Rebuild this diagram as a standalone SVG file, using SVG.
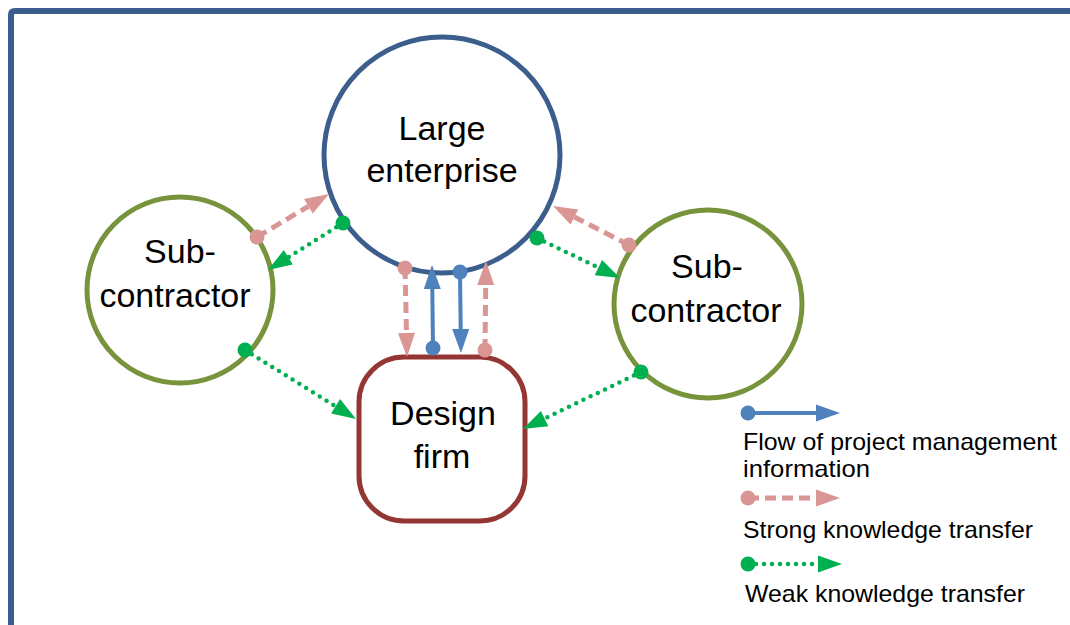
<svg xmlns="http://www.w3.org/2000/svg" width="1070" height="625" viewBox="0 0 1070 625">
<style>
.lbl{font-family:"Liberation Sans",Arial,sans-serif;font-size:34px;fill:#000;text-anchor:middle}
.leg{font-family:"Liberation Sans",Arial,sans-serif;font-size:24px;fill:#000}
.blue{stroke:#4f81bd;stroke-width:4;fill:none;marker-start:url(#db);marker-end:url(#ab)}
.pink{stroke:#d99694;stroke-width:5;fill:none;stroke-dasharray:11 6;marker-start:url(#dp);marker-end:url(#ap)}
.green{stroke:#00b050;stroke-width:4.5;fill:none;stroke-dasharray:0 8;stroke-linecap:round;marker-start:url(#dg);marker-end:url(#ag)}
</style>
<defs>
<marker id="ab" markerUnits="userSpaceOnUse" orient="auto" refX="0" refY="0" markerWidth="30" markerHeight="30" overflow="visible"><path d="M0,-8.5 L24,0 L0,8.5 z" fill="#4f81bd"/></marker>
<marker id="ap" markerUnits="userSpaceOnUse" orient="auto" refX="0" refY="0" markerWidth="30" markerHeight="30" overflow="visible"><path d="M0,-8.5 L24,0 L0,8.5 z" fill="#d99694"/></marker>
<marker id="ag" markerUnits="userSpaceOnUse" orient="auto" refX="0" refY="0" markerWidth="30" markerHeight="30" overflow="visible"><path d="M0,-8.5 L24,0 L0,8.5 z" fill="#00b050"/></marker>
<marker id="db" markerUnits="userSpaceOnUse" refX="0" refY="0" markerWidth="20" markerHeight="20" overflow="visible"><circle r="7.5" fill="#4f81bd"/></marker>
<marker id="dp" markerUnits="userSpaceOnUse" refX="0" refY="0" markerWidth="20" markerHeight="20" overflow="visible"><circle r="7.5" fill="#d99694"/></marker>
<marker id="dg" markerUnits="userSpaceOnUse" refX="0" refY="0" markerWidth="20" markerHeight="20" overflow="visible"><circle r="7.5" fill="#00b050"/></marker>
</defs>
<rect width="1070" height="625" fill="#fff"/>
<path d="M11,630 V15 Q11,11 15,11 H1075" fill="none" stroke="#3a5f8f" stroke-width="6"/>

<g id="large-enterprise">
<circle cx="442" cy="155" r="118" fill="#fff" stroke="#3b5e8c" stroke-width="5"/>
<text class="lbl" x="442" y="140">Large</text>
<text class="lbl" x="442" y="182">enterprise</text>
</g>
<g id="subcontractor-left">
<circle cx="180" cy="290" r="93" fill="#fff" stroke="#77933c" stroke-width="5"/>
<text class="lbl" x="180" y="263">Sub-</text>
<text class="lbl" x="175" y="307">contractor</text>
</g>
<g id="subcontractor-right">
<circle cx="708" cy="304" r="94" fill="#fff" stroke="#77933c" stroke-width="5"/>
<text class="lbl" x="707" y="278">Sub-</text>
<text class="lbl" x="706" y="322">contractor</text>
</g>
<g id="design-firm">
<rect x="359" y="357" width="166" height="164" rx="45" ry="45" fill="#fff" stroke="#943634" stroke-width="5"/>
<text class="lbl" x="443" y="425">Design</text>
<text class="lbl" x="442" y="468">firm</text>
</g>

<g id="connectors">
<path class="pink" d="M257,237 L308.4,206.3"/>
<path class="green" d="M343,223 L288.3,257.3"/>
<path class="green" d="M245,350 L335.6,406.3"/>
<path class="green" d="M641,372 L544.6,418.6"/>
<path class="pink" d="M629,245 L574.4,217"/>
<path class="green" d="M537,238 L598.4,267.6"/>
<path class="pink" d="M405,268 L406.5,333"/>
<path class="blue" d="M433,348 L432.3,289"/>
<path class="blue" d="M460,272 L460.7,329"/>
<path class="pink" d="M485,350 L485.7,285"/>
</g>

<g id="legend">
<path class="blue" d="M748,413 L816,413"/>
<text class="leg" x="743" y="450" textLength="314" lengthAdjust="spacingAndGlyphs">Flow of project management</text>
<text class="leg" x="743" y="477" textLength="127" lengthAdjust="spacingAndGlyphs">information</text>
<path class="pink" d="M748,498 L816,498"/>
<text class="leg" x="743" y="538" textLength="290" lengthAdjust="spacingAndGlyphs">Strong knowledge transfer</text>
<path class="green" d="M748,564 L818,564"/>
<text class="leg" x="745" y="602" textLength="280" lengthAdjust="spacingAndGlyphs">Weak knowledge transfer</text>
</g>
</svg>
